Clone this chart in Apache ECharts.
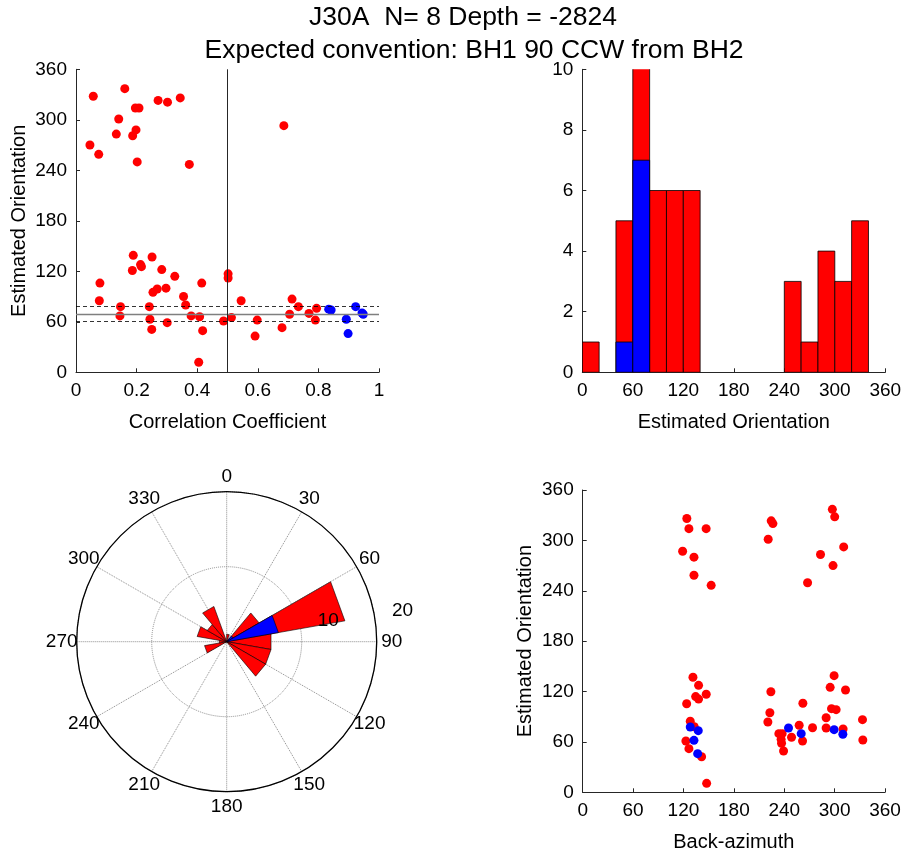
<!DOCTYPE html>
<html>
<head>
<meta charset="utf-8">
<script src="https://cdn.jsdelivr.net/npm/echarts@6/dist/echarts.min.js"></script>
<style>
  html, body { margin: 0; padding: 0; background: #fff; }
  #chart { width: 904px; height: 853px; }
</style>
</head>
<body>
<div id="chart"></div>
<script>
// ---- Titles ----
const titleLine1 = 'J30A  N= 8 Depth = -2824';
const titleLine2 = 'Expected convention: BH1 90 CCW from BH2';

// ---- Correlation coefficient vs estimated orientation (deg) ----
const corrRejected = [
  [0.057, 328], [0.161, 337], [0.046, 270], [0.075, 259], [0.133, 283], [0.141, 301],
  [0.187, 281], [0.198, 288], [0.196, 314], [0.208, 314], [0.202, 250], [0.271, 323],
  [0.302, 321], [0.344, 326], [0.374, 247], [0.686, 293],
  [0.189, 139], [0.213, 128], [0.216, 125.5], [0.251, 137], [0.186, 121], [0.283, 122],
  [0.326, 114], [0.079, 106], [0.415, 106], [0.502, 117], [0.502, 112], [0.077, 85],
  [0.254, 95], [0.268, 99], [0.297, 100], [0.355, 90], [0.362, 80], [0.147, 78],
  [0.145, 67], [0.242, 78], [0.244, 63], [0.250, 51], [0.301, 59], [0.380, 67],
  [0.408, 66], [0.418, 49.5], [0.405, 12], [0.487, 61], [0.513, 65], [0.545, 85],
  [0.598, 62], [0.591, 43], [0.680, 53], [0.713, 87], [0.705, 69], [0.734, 78],
  [0.769, 70], [0.794, 76], [0.790, 62]
];
const corrAccepted = [
  [0.834, 75], [0.842, 74], [0.892, 63], [0.898, 46], [0.923, 78], [0.944, 70.5], [0.948, 69]
];
const corrThreshold = 0.5;
const bestOrientation = 69.5;
const orientationBounds = [60.5, 78.5];

// ---- Orientation histogram (20 degree bins) ----
const binWidth = 20;
const binStarts = [0, 20, 40, 60, 80, 100, 120, 140, 160, 180, 200, 220, 240, 260, 280, 300, 320, 340];
const allCounts = [1, 0, 5, 16, 6, 6, 6, 0, 0, 0, 0, 0, 3, 1, 4, 3, 5, 0];
const acceptedCounts = [0, 0, 1, 7, 0, 0, 0, 0, 0, 0, 0, 0, 0, 0, 0, 0, 0, 0];
const histMax = 10;

// ---- Rose diagram axes ----
const compassLabels = [0, 30, 60, 90, 120, 150, 180, 210, 240, 270, 300, 330];
const roseRings = [10, 20];
const roseMax = 20;
const ringLabelBearing = 82;

// ---- Back-azimuth vs estimated orientation ----
const bazRejected = [
  [124, 326], [126.5, 314], [147, 314], [119, 287], [132.5, 280], [132.5, 258.5], [153, 246.5],
  [131.3, 137], [138, 127.4], [134.5, 114], [138, 111], [147.1, 116.7], [123.8, 105.5],
  [128.1, 84.6], [132.8, 78.1], [122.9, 61.1], [126.5, 52], [141.6, 42.4], [147.6, 10.7],
  [224.5, 323.3], [226.5, 320], [220.9, 301.3], [267.8, 249.5], [224.1, 119.8], [222.9, 94.8],
  [220.5, 83.7], [262.2, 106], [233.6, 69.8], [237.5, 69.8], [236.8, 58.4], [236.3, 63.1],
  [239.2, 49.2], [248.7, 65.5], [257.8, 79.8], [261.8, 61.1], [273.7, 76.9],
  [283.2, 283.2], [297.3, 337], [300.1, 328], [310.8, 292.2], [298.1, 270], [299.4, 138.9],
  [294.7, 125], [313, 121.8], [296.3, 99.6], [301.8, 98.4], [289.9, 88.8], [289.9, 76.6],
  [310.1, 75.4], [333.2, 86.5], [333.6, 62.3]
];
const bazAccepted = [
  [128.1, 77.8], [137.6, 73.4], [132.5, 61.9], [136.9, 46],
  [245.1, 76.6], [260.2, 69.8], [299.4, 74.6], [309.8, 69.1]
];

// ---- Styling ----
const FONT = 'Liberation Sans, Arial, sans-serif';
const RED = '#ff0000';
const BLUE = '#0000ff';

function axis(extra) {
  return Object.assign({
    type: 'value',
    nameLocation: 'middle',
    nameTextStyle: { color: '#000', fontSize: 20, fontFamily: FONT },
    axisLine: { show: true, onZero: false, lineStyle: { color: '#262626', width: 1 } },
    axisTick: { show: true, inside: true, length: 4, lineStyle: { color: '#262626' } },
    axisLabel: { color: '#000', fontSize: 19, fontFamily: FONT, margin: 9, showMinLabel: true, showMaxLabel: true },
    splitLine: { show: false }
  }, extra);
}

const binData = (counts) => binStarts.map((s, i) => [s, s + binWidth, counts[i]]);

function histBar(params, api) {
  const h = api.value(2);
  if (!h) return null;
  const p0 = api.coord([api.value(0), 0]);
  const p1 = api.coord([api.value(1), h]);
  return {
    type: 'rect',
    shape: { x: p0[0], y: p1[1], width: p1[0] - p0[0], height: p0[1] - p1[1] },
    style: { fill: api.visual('color'), stroke: '#000', lineWidth: 0.8 }
  };
}

function roseWedge(params, api) {
  const r = api.value(2);
  if (!r) return null;
  const c = api.coord([0, api.value(0)]);
  const p1 = api.coord([r, api.value(0)]);
  const p2 = api.coord([r, api.value(1)]);
  return {
    type: 'polygon',
    shape: { points: [c, p1, p2] },
    style: { fill: api.visual('color'), stroke: '#000', lineWidth: 0.6 }
  };
}

// text placed at a polar position [radius, bearing]
function polarText(opts) {
  return function (params, api) {
    const p = api.coord([api.value(0), api.value(1)]);
    return {
      type: 'text', x: p[0] + (opts.dx || 0), y: p[1] + (opts.dy || 0),
      style: {
        text: String(api.value(2)), fill: '#000', font: '19px ' + FONT,
        align: opts.align, verticalAlign: opts.verticalAlign
      }
    };
  };
}

const chart = echarts.init(document.getElementById('chart'), null, { renderer: 'canvas' });

chart.setOption({
  backgroundColor: '#fff',
  animation: false,
  graphic: [
    { type: 'text', x: 463, y: 18, style: { text: titleLine1, fill: '#000', font: '26.5px ' + FONT, align: 'center', verticalAlign: 'middle' } },
    { type: 'text', x: 474, y: 51, style: { text: titleLine2, fill: '#000', font: '26.5px ' + FONT, align: 'center', verticalAlign: 'middle' } }
  ],
  grid: [
    { left: 76, top: 69.3, width: 303, height: 303, outerBoundsMode: 'none' },
    { left: 582.3, top: 69.3, width: 303, height: 303, outerBoundsMode: 'none' },
    { left: 582.7, top: 490, width: 302.3, height: 302.3, outerBoundsMode: 'none' }
  ],
  polar: { center: [226.7, 641.7], radius: 150 },
  angleAxis: {
    type: 'value', min: 0, max: 360, interval: 30, startAngle: 90, clockwise: true,
    axisLine: { show: true, lineStyle: { color: '#000', width: 1.3 } },
    axisTick: { show: false },
    axisLabel: { show: false },
    splitLine: { show: true, lineStyle: { color: '#8c8c8c', type: 'dotted', width: 1 } }
  },
  radiusAxis: {
    type: 'value', min: 0, max: roseMax, interval: 10,
    axisLine: { show: false }, axisTick: { show: false }, axisLabel: { show: false },
    splitLine: { show: true, lineStyle: { color: '#8c8c8c', type: 'dotted', width: 1 } }
  },
  xAxis: [
    axis({ gridIndex: 0, min: 0, max: 1, interval: 0.2, name: 'Correlation Coefficient', nameGap: 40 }),
    axis({ gridIndex: 1, min: 0, max: 360, interval: 60, name: 'Estimated Orientation', nameGap: 40 }),
    axis({ gridIndex: 2, min: 0, max: 360, interval: 60, name: 'Back-azimuth', nameGap: 40 })
  ],
  yAxis: [
    axis({ gridIndex: 0, min: 0, max: 360, interval: 60, name: 'Estimated Orientation', nameGap: 47 }),
    axis({ gridIndex: 1, min: 0, max: histMax, interval: 2 }),
    axis({ gridIndex: 2, min: 0, max: 360, interval: 60, name: 'Estimated Orientation', nameGap: 47 })
  ],
  series: [
    // reference lines in the correlation panel
    {
      type: 'scatter', xAxisIndex: 0, yAxisIndex: 0, data: [], z: 1, silent: true,
      markLine: {
        silent: true, symbol: 'none', label: { show: false }, animation: false,
        data: [
          { yAxis: bestOrientation, lineStyle: { color: '#7f7f7f', type: 'solid', width: 1.3 } },
          { yAxis: orientationBounds[0], lineStyle: { color: '#000', type: [4, 3], width: 0.8 } },
          { yAxis: orientationBounds[1], lineStyle: { color: '#000', type: [4, 3], width: 0.8 } },
          { xAxis: corrThreshold, lineStyle: { color: '#262626', type: 'solid', width: 1 } }
        ]
      }
    },
    { type: 'scatter', xAxisIndex: 0, yAxisIndex: 0, data: corrRejected, symbolSize: 9, itemStyle: { color: RED, opacity: 1 }, z: 3 },
    { type: 'scatter', xAxisIndex: 0, yAxisIndex: 0, data: corrAccepted, symbolSize: 9, itemStyle: { color: BLUE, opacity: 1 }, z: 4 },

    // histogram: all picks, accepted picks drawn over them
    { type: 'custom', xAxisIndex: 1, yAxisIndex: 1, clip: true, renderItem: histBar, data: binData(allCounts), encode: { x: [0, 1], y: 2 }, itemStyle: { color: RED }, z: 2 },
    { type: 'custom', xAxisIndex: 1, yAxisIndex: 1, clip: true, renderItem: histBar, data: binData(acceptedCounts), encode: { x: [0, 1], y: 2 }, itemStyle: { color: BLUE }, z: 3 },

    // rose diagram
    { type: 'custom', coordinateSystem: 'polar', renderItem: roseWedge, data: binData(allCounts), encode: { angle: [0, 1], radius: 2 }, itemStyle: { color: RED }, z: 2 },
    { type: 'custom', coordinateSystem: 'polar', renderItem: roseWedge, data: binData(acceptedCounts), encode: { angle: [0, 1], radius: 2 }, itemStyle: { color: BLUE }, z: 3 },
    // compass bearings just outside the rim
    {
      type: 'custom', coordinateSystem: 'polar', silent: true, z: 5,
      renderItem: polarText({ align: 'center', verticalAlign: 'middle' }),
      data: compassLabels.map(a => [roseMax * 1.1, a, a]),
      encode: { radius: 0, angle: 1 }
    },
    // ring values
    {
      type: 'custom', coordinateSystem: 'polar', silent: true, z: 5,
      renderItem: polarText({ align: 'left', verticalAlign: 'bottom', dx: 13, dy: 0 }),
      data: roseRings.map(v => [v + roseRings[0] / 20, ringLabelBearing, v]),
      encode: { radius: 0, angle: 1 }
    },

    // back-azimuth panel
    { type: 'scatter', xAxisIndex: 2, yAxisIndex: 2, data: bazRejected, symbolSize: 9, itemStyle: { color: RED, opacity: 1 }, z: 3 },
    { type: 'scatter', xAxisIndex: 2, yAxisIndex: 2, data: bazAccepted, symbolSize: 9, itemStyle: { color: BLUE, opacity: 1 }, z: 4 }
  ]
});
</script>
</body>
</html>
